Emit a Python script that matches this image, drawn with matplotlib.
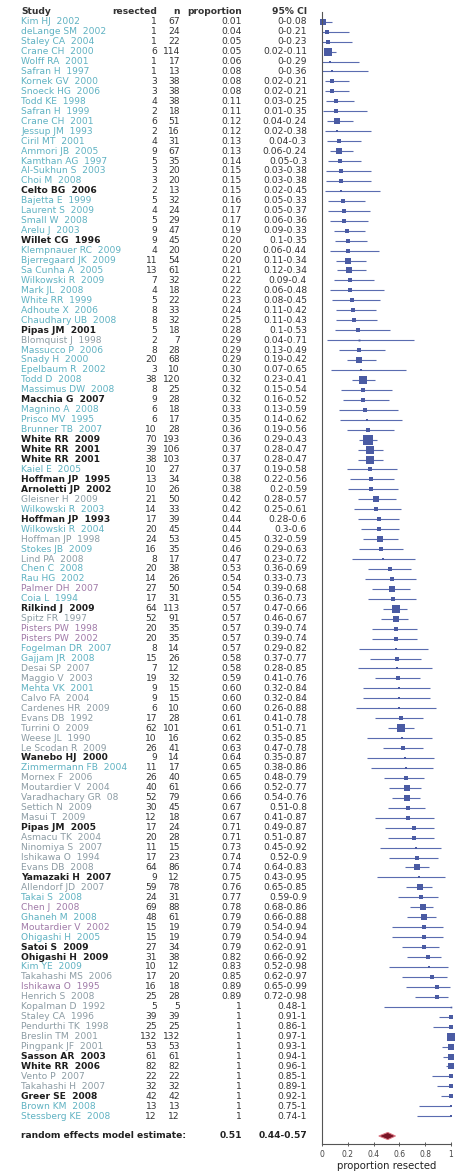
import matplotlib
matplotlib.use("Agg")
import matplotlib.pyplot as plt
from matplotlib.transforms import blended_transform_factory
from matplotlib.patches import Polygon

plt.rcParams['font.family'] = ['DejaVu Sans']

# study data: resected / n, proportion and exact 95% CI
studies = [
    "Kim HJ  2002", "deLange SM  2002", "Staley CA  2004", "Crane CH  2000", "Wolff RA  2001",
    "Safran H  1997", "Kornek GV  2000", "Snoeck HG  2006", "Todd KE  1998", "Safran H  1999",
    "Crane CH  2001", "Jessup JM  1993", "Ciril MT  2001", "Ammori JB  2005", "Kamthan AG  1997",
    "Al-Sukhun S  2003", "Choi M  2008", "Celto BG  2006", "Bajetta E  1999", "Laurent S  2009",
    "Small W  2008", "Arelu J  2003", "Willet CG  1996", "Klempnauer RC  2009", "Bjerregaard JK  2009",
    "Sa Cunha A  2005", "Wilkowski R  2009", "Mark JL  2008", "White RR  1999", "Adhoute X  2006",
    "Chaudhary UB  2008", "Pipas JM  2001", "Blomquist J  1998", "Massucco P  2006", "Snady H  2000",
    "Epelbaum R  2002", "Todd D  2008", "Massimus DW  2008", "Macchia G  2007", "Magnino A  2008",
    "Prisco MV  1995", "Brunner TB  2007", "White RR  2009", "White RR  2001", "White RR  2001",
    "Kaiel E  2005", "Hoffman JP  1995", "Arnoletti JP  2002", "Gleisner H  2009", "Wilkowski R  2003",
    "Hoffman JP  1993", "Wilkowski R  2004", "Hoffman JP  1998", "Stokes JB  2009", "Lind PA  2008",
    "Chen C  2008", "Rau HG  2002", "Palmer DH  2007", "Coia L  1994", "Rilkind J  2009",
    "Spitz FR  1997", "Pisters PW  1998", "Pisters PW  2002", "Fogelman DR  2007", "Gajjam JR  2008",
    "Desai SP  2007", "Maggio V  2003", "Mehta VK  2001", "Calvo FA  2004", "Cardenes HR  2009",
    "Evans DB  1992", "Turrini O  2009", "Weese JL  1990", "Le Scodan R  2009", "Wanebo HJ  2000",
    "Zimmermann FB  2004", "Mornex F  2006", "Moutardier V  2004", "Varadhachary GR  08", "Settich N  2009",
    "Masui T  2009", "Pipas JM  2005", "Asmacu TK  2004", "Ninomiya S  2007", "Ishikawa O  1994",
    "Evans DB  2008", "Yamazaki H  2007", "Allendorf JD  2007", "Takai S  2008", "Chen J  2008",
    "Ghaneh M  2008", "Moutardier V  2002", "Ohigashi H  2005", "Satoi S  2009", "Ohigashi H  2009",
    "Kim YE  2009", "Takahashi MS  2006", "Ishikawa O  1995", "Henrich S  2008", "Kopalman D  1992",
    "Staley CA  1996", "Pendurthi TK  1998", "Breslin TM  2001", "Pingpank JF  2001", "Sasson AR  2003",
    "White RR  2006", "Vento P  2007", "Takahashi H  2007", "Greer SE  2008", "Brown KM  2008",
    "Stessberg KE  2008",
]
resected = [1, 1, 1, 6, 1, 1, 3, 3, 4, 2, 6, 2, 4, 9, 5, 3, 3, 2, 5, 4,
            5, 9, 9, 4, 11, 13, 7, 4, 5, 8, 8, 5, 2, 8, 20, 3, 38, 8, 9, 6,
            6, 10, 70, 39, 38, 10, 13, 10, 21, 14, 17, 20, 24, 16, 8, 20, 14, 27, 17, 64,
            52, 20, 20, 8, 15, 7, 19, 9, 9, 6, 17, 62, 10, 26, 9, 11, 26, 40, 52, 30,
            12, 17, 20, 11, 17, 64, 9, 59, 24, 69, 48, 15, 15, 27, 31, 10, 17, 16, 25, 5,
            39, 25, 132, 53, 61, 82, 22, 32, 42, 13, 12]
n_total = [67, 24, 22, 114, 17, 13, 38, 38, 38, 18, 51, 16, 31, 67, 35, 20, 20, 13, 32, 24,
           29, 47, 45, 20, 54, 61, 32, 18, 22, 33, 32, 18, 7, 28, 68, 10, 120, 25, 28, 18,
           17, 28, 193, 106, 103, 27, 34, 26, 50, 33, 39, 45, 53, 35, 17, 38, 26, 50, 31, 113,
           91, 35, 35, 14, 26, 12, 32, 15, 15, 10, 28, 101, 16, 41, 14, 17, 40, 61, 79, 45,
           18, 24, 28, 15, 23, 86, 12, 78, 31, 88, 61, 19, 19, 34, 38, 12, 20, 18, 28, 5,
           39, 25, 132, 53, 61, 82, 22, 32, 42, 13, 12]
proportion = [0.01, 0.04, 0.05, 0.05, 0.06, 0.08, 0.08, 0.08, 0.11, 0.11, 0.12, 0.12, 0.13, 0.13, 0.14,
              0.15, 0.15, 0.15, 0.16, 0.17, 0.17, 0.19, 0.20, 0.20, 0.20, 0.21, 0.22, 0.22, 0.23, 0.24,
              0.25, 0.28, 0.29, 0.29, 0.29, 0.30, 0.32, 0.32, 0.32, 0.33, 0.35, 0.36, 0.36, 0.37, 0.37,
              0.37, 0.38, 0.38, 0.42, 0.42, 0.44, 0.44, 0.45, 0.46, 0.47, 0.53, 0.54, 0.54, 0.55, 0.57,
              0.57, 0.57, 0.57, 0.57, 0.58, 0.58, 0.59, 0.60, 0.60, 0.60, 0.61, 0.61, 0.62, 0.63, 0.64,
              0.65, 0.65, 0.66, 0.66, 0.67, 0.67, 0.71, 0.71, 0.73, 0.74, 0.74, 0.75, 0.76, 0.77, 0.78,
              0.79, 0.79, 0.79, 0.79, 0.82, 0.83, 0.85, 0.89, 0.89, 1, 1, 1, 1, 1, 1,
              1, 1, 1, 1, 1, 1]
ci_low = [0, 0, 0, 0.02, 0, 0, 0.02, 0.02, 0.03, 0.01, 0.04, 0.02, 0.04, 0.06, 0.05,
          0.03, 0.03, 0.02, 0.05, 0.05, 0.06, 0.09, 0.10, 0.06, 0.11, 0.12, 0.09, 0.06, 0.08, 0.11,
          0.11, 0.10, 0.04, 0.13, 0.19, 0.07, 0.23, 0.15, 0.16, 0.13, 0.14, 0.19, 0.29, 0.28, 0.28,
          0.19, 0.22, 0.20, 0.28, 0.25, 0.28, 0.30, 0.32, 0.29, 0.23, 0.36, 0.33, 0.39, 0.36, 0.47,
          0.46, 0.39, 0.39, 0.29, 0.37, 0.28, 0.41, 0.32, 0.32, 0.26, 0.41, 0.51, 0.35, 0.47, 0.35,
          0.38, 0.48, 0.52, 0.54, 0.51, 0.41, 0.49, 0.51, 0.45, 0.52, 0.64, 0.43, 0.65, 0.59, 0.68,
          0.66, 0.54, 0.54, 0.62, 0.66, 0.52, 0.62, 0.65, 0.72, 0.48, 0.91, 0.86, 0.97, 0.93, 0.94,
          0.96, 0.85, 0.89, 0.92, 0.75, 0.74]
ci_high = [0.08, 0.21, 0.23, 0.11, 0.29, 0.36, 0.21, 0.21, 0.25, 0.35, 0.24, 0.38, 0.30, 0.24, 0.30,
           0.38, 0.38, 0.45, 0.33, 0.37, 0.36, 0.33, 0.35, 0.44, 0.34, 0.34, 0.40, 0.48, 0.45, 0.42,
           0.43, 0.53, 0.71, 0.49, 0.42, 0.65, 0.41, 0.54, 0.52, 0.59, 0.62, 0.56, 0.43, 0.47, 0.47,
           0.58, 0.56, 0.59, 0.57, 0.61, 0.60, 0.60, 0.59, 0.63, 0.72, 0.69, 0.73, 0.68, 0.73, 0.66,
           0.67, 0.74, 0.74, 0.82, 0.77, 0.85, 0.76, 0.84, 0.84, 0.88, 0.78, 0.71, 0.85, 0.78, 0.87,
           0.86, 0.79, 0.77, 0.76, 0.80, 0.87, 0.87, 0.87, 0.92, 0.90, 0.83, 0.95, 0.85, 0.90, 0.86,
           0.88, 0.94, 0.94, 0.91, 0.92, 0.98, 0.97, 0.99, 0.98, 1, 1, 1, 1, 1, 1,
           1, 1, 1, 1, 1, 1]
# rows whose study name is printed dark/bold, grey or purple (others teal)
dark_rows = [17, 22, 31, 38, 42, 43, 44, 46, 47, 50, 59, 74, 81, 86, 93, 94, 104, 105, 108]
grey_rows = [32, 48, 52, 54, 60, 65, 66, 68, 69, 70, 71, 72, 73, 76, 77, 78, 79, 80, 82, 83,
             84, 85, 87, 96, 98, 99, 100, 101, 102, 103, 106, 107]
purple_rows = [57, 61, 62, 89, 91, 97]
summary = (0.51, 0.44, 0.57)


def fmt_ci(v):
    return f"{v:.2f}".rstrip("0").rstrip(".")


def fmt_p(v):
    return "1" if v == 1 else f"{v:.2f}"


W, H = 461, 1173
fig = plt.figure(figsize=(W / 100, H / 100), dpi=100)
top_px, bot_px, row0_px, row_px = 12, 1144, 21.7, 9.95
ax = fig.add_axes([322 / W, 1 - bot_px / H, (451 - 322) / W, (bot_px - top_px) / H])

n_rows = len(studies)
ax.set_ylim((bot_px - row0_px) / row_px, -(row0_px - top_px) / row_px)
ax.set_xlim(0, 1)

sq_color = "#4a5ba3"
for i in range(n_rows):
    ax.plot([ci_low[i], ci_high[i]], [i, i], color="#5a6cb0", lw=0.8, solid_capstyle="butt")
    side = 0.72 * n_total[i] ** 0.5
    ax.plot(proportion[i], i, marker="s", ms=side * 0.72, color=sq_color, mew=0, clip_on=False)

y_sum = (1136 - row0_px) / row_px
est, lo, hi = summary
dia = Polygon([(lo, y_sum), (est, y_sum - 0.36), (hi, y_sum), (est, y_sum + 0.36)],
              closed=True, facecolor="#7a1526", edgecolor="#e07a86", lw=0.7)
ax.add_patch(dia)

for s in ["top", "right"]:
    ax.spines[s].set_visible(False)
for s in ["left", "bottom"]:
    ax.spines[s].set_color("#555555")
    ax.spines[s].set_linewidth(0.8)
ax.set_yticks([])
ax.set_xticks([0, 0.2, 0.4, 0.6, 0.8, 1])
ax.set_xticklabels(["0", "0.2", "0.4", "0.6", "0.8", "1"])
ax.tick_params(axis="x", labelsize=5.5, length=3, width=0.6, direction="inout",
               colors="#444444", pad=3)
ax.set_xlabel("proportion resected", fontsize=7.3, labelpad=1, color="#222222")

# table columns beside the plot
tr = blended_transform_factory(fig.transFigure, ax.transData)
x_name, x_res, x_n, x_p, x_ci = 21 / W, 157 / W, 180 / W, 242 / W, 307 / W
fs = 6.6
y_head = (12 - row0_px) / row_px
hkw = dict(transform=tr, fontsize=fs, fontweight="bold", color="#333333", va="center")
fig.text(x_name, y_head, "Study", ha="left", **hkw)
fig.text(x_res, y_head, "resected", ha="right", **hkw)
fig.text(x_n, y_head, "n", ha="right", **hkw)
fig.text(x_p, y_head, "proportion", ha="right", **hkw)
fig.text(x_ci, y_head, "95% CI", ha="right", **hkw)

for i in range(n_rows):
    if i in dark_rows:
        col, wt = "#1e1e1e", "bold"
    elif i in grey_rows:
        col, wt = "#8c9ca4", "normal"
    elif i in purple_rows:
        col, wt = "#a07aa8", "normal"
    else:
        col, wt = "#5fb2c2", "normal"
    kw = dict(transform=tr, fontsize=fs, va="center", color="#333333")
    fig.text(x_name, i, studies[i], ha="left", fontsize=fs, va="center", transform=tr,
             color=col, fontweight=wt)
    fig.text(x_res, i, str(resected[i]), ha="right", **kw)
    fig.text(x_n, i, str(n_total[i]), ha="right", **kw)
    fig.text(x_p, i, fmt_p(proportion[i]), ha="right", **kw)
    fig.text(x_ci, i, f"{fmt_ci(ci_low[i])}-{fmt_ci(ci_high[i])}", ha="right", **kw)

skw = dict(transform=tr, fontsize=fs, fontweight="bold", va="center", color="#222222")
fig.text(x_name, y_sum, "random effects model estimate:", ha="left", **skw)
fig.text(x_p, y_sum, f"{est:.2f}", ha="right", **skw)
fig.text(x_ci, y_sum, f"{fmt_ci(lo)}-{fmt_ci(hi)}", ha="right", **skw)

fig.savefig("out.png", dpi=100)
